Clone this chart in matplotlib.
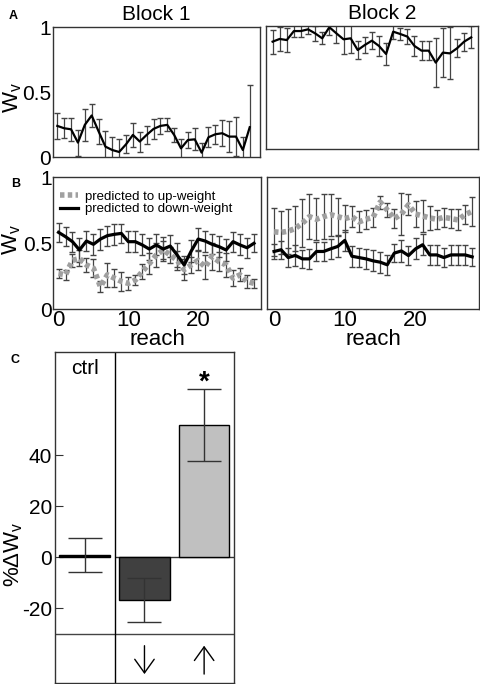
import matplotlib
matplotlib.use('Agg')
import matplotlib.pyplot as plt
import numpy as np

plt.rcParams['font.family'] = ['Liberation Sans', 'DejaVu Sans']
plt.rcParams['mathtext.fontset'] = 'custom'
plt.rcParams['mathtext.rm'] = 'Liberation Sans'
plt.rcParams['axes.unicode_minus'] = False

# panel A: visual weight per reach, block 1 and block 2
a1_mean = [.241, .223, .215, .113, .249, .321, .200, .082, .056, .041, .100, .172, .121, .172, .218,
           .241, .249, .172, .069, .133, .138, .036, .154, .177, .185, .159, .159, .056, .231]
a1_err = [.097, .077, .090, .100, .120, .087, .097, .120, .100, .097, .070, .095, .077, .070, .074,
          .060, .050, .055, .072, .060, .085, .072, .075, .073, .100, .120, .150, .100, .325]
a2_mean = [.873, .895, .886, .959, .959, .973, .940, .900, .990, .940, .892, .900, .805, .846, .881,
           .838, .773, .954, .935, .914, .838, .800, .800, .703, .784, .778, .819, .873, .908]
a2_err = [.097, .095, .100, .050, .045, .040, .060, .050, .060, .080, .120, .120, .076, .068, .068,
          .084, .092, .060, .050, .058, .084, .077, .077, .200, .200, .210, .073, .074, .090]

# panel B: down-weight (black) and up-weight (gray) groups
b1_down = [.583, .550, .512, .449, .517, .492, .532, .558, .568, .575, .512, .512, .487, .456, .487,
           .456, .479, .410, .335, .440, .532, .517, .492, .474, .449, .512, .487, .466, .500]
b1_down_err = [.070, .070, .075, .090, .075, .080, .080, .075, .080, .075, .080, .080, .080, .085, .080,
               .090, .085, .090, .070, .085, .085, .080, .075, .080, .085, .075, .080, .075, .070]
b1_up = [.270, .260, .370, .385, .335, .310, .170, .260, .235, .210, .195, .220, .285, .345, .410,
         .450, .410, .370, .300, .335, .370, .320, .400, .360, .335, .235, .260, .210, .195]
b1_up_err = [.035, .040, .050, .060, .050, .070, .040, .090, .070, .070, .050, .040, .060, .080, .090,
             .070, .060, .070, .080, .060, .070, .090, .100, .070, .090, .060, .050, .050, .035]
b2_down = [.436, .449, .390, .406, .380, .380, .436, .436, .456, .474, .520, .400, .390, .380, .365,
           .355, .335, .424, .440, .405, .456, .487, .410, .410, .390, .410, .410, .410, .395]
b2_down_err = [.060, .070, .075, .080, .070, .075, .070, .070, .075, .080, .080, .080, .075, .075, .080,
               .080, .075, .070, .080, .075, .080, .080, .075, .075, .075, .075, .075, .075, .070]
b2_up = [.585, .580, .590, .610, .650, .700, .680, .700, .715, .700, .685, .700, .660, .680, .695,
         .810, .750, .685, .720, .790, .720, .705, .690, .680, .695, .685, .675, .715, .740]
b2_up_err = [.180, .160, .170, .170, .180, .170, .160, .170, .160, .140, .100, .080, .080, .070, .070,
             .050, .050, .070, .160, .080, .100, .120, .090, .070, .070, .070, .080, .070, .110]

# panel C: percent change in visual weight
c_labels = ['ctrl', 'down', 'up']
c_mean = [0.7, -16.9, 51.8]
c_err = [6.7, 8.6, 14.0]
c_colors = ['black', '#404040', '#c0c0c0']

reach = np.arange(len(a1_mean))
ecol = '#444444'
fs_tick = 15

fig = plt.figure(figsize=(4.81, 6.84), dpi=100)
axA1 = fig.add_axes([.1096, .770, .431, .1905])
axA2 = fig.add_axes([.552, .7817, .4424, .1803])
axB1 = fig.add_axes([.1108, .5482, .4318, .1923])
axB2 = fig.add_axes([.555, .5482, .4414, .193])
axC = fig.add_axes([.1143, .0015, .3721, .4839])

for ax in [axA1, axA2, axB1, axB2]:
    ax.set_ylim(0, 1)
    ax.tick_params(length=0, labelsize=fs_tick, pad=1)
    for s in ax.spines.values():
        s.set_color('#333333')
        s.set_linewidth(1)
axA1.set_xlim(-0.67, 29.5)
axB1.set_xlim(-0.75, 29.0)
axA2.set_xlim(-1.0, 29.0)
axB2.set_xlim(-1.0, 29.0)

# A
axA1.errorbar(reach, a1_mean, yerr=a1_err, fmt='none', ecolor=ecol, elinewidth=0.9, capsize=2.5)
axA1.plot(reach, a1_mean, color='black', lw=1.6)
axA2.errorbar(reach, a2_mean, yerr=a2_err, fmt='none', ecolor=ecol, elinewidth=0.9, capsize=2.5)
axA2.plot(reach, a2_mean, color='black', lw=1.6)
axA1.set_title('Block 1', fontsize=15, pad=5)
axA2.set_title('Block 2', fontsize=15, pad=5, x=0.55)
axA1.set_yticks([0, 0.5, 1], ['0', '0.5', '1'])
axA1.set_xticks([])
axA2.set_xticks([])
axA2.set_yticks([])
axA1.set_ylabel(r'W$_\mathrm{v}$', fontsize=16)
axA1.yaxis.set_label_coords(-0.14, 0.46)

# B
dots = (0, (0.8, 0.6))
for ax, dn, dne, up, upe in [(axB1, b1_down, b1_down_err, b1_up, b1_up_err),
                              (axB2, b2_down, b2_down_err, b2_up, b2_up_err)]:
    ax.errorbar(reach, up, yerr=upe, fmt='none', ecolor=ecol, elinewidth=0.9, capsize=2.5)
    ax.errorbar(reach, dn, yerr=dne, fmt='none', ecolor=ecol, elinewidth=0.9, capsize=2.5)
    ax.plot(reach, up, color='#a0a0a0', lw=4, linestyle=dots, label='predicted to up-weight')
    ax.plot(reach, dn, color='black', lw=2.3, label='predicted to down-weight')
    ax.set_xticks([0, 10, 20])
    ax.tick_params(axis='x', labelsize=16)
    ax.set_xlabel('reach', fontsize=16, labelpad=-2)
axB1.set_yticks([0, 0.5, 1], ['0', '0.5', '1'])
axB2.set_yticks([])
axB1.set_ylabel(r'W$_\mathrm{v}$', fontsize=16)
axB1.yaxis.set_label_coords(-0.145, 0.525)
axB1.legend(loc='upper left', bbox_to_anchor=(0.03, 0.9), frameon=False, fontsize=9.5,
            handlelength=1.4, handletextpad=0.5, labelspacing=0.0, borderpad=0, borderaxespad=0)

# C
pos = [0.5, 1.5, 2.5]
axC.bar(pos, c_mean, width=0.85, color=c_colors, edgecolor='black', linewidth=1, zorder=2)
axC.errorbar(pos, c_mean, yerr=c_err, fmt='none', ecolor='#333333', elinewidth=1, capsize=12, zorder=3)
axC.set_xlim(0, 3)
axC.set_ylim(-49.4, 80.4)
axC.hlines(0, 1.0, 3.0, color='#333333', lw=1, zorder=1)
axC.axhline(-30, color='#444444', lw=1)
axC.axvline(1.0, color='black', lw=1)
axC.set_xticks([])
axC.set_yticks([-20, 0, 20, 40])
axC.tick_params(axis='y', direction='in', length=5.5, labelsize=fs_tick, pad=2, color='#333333')
for s in axC.spines.values():
    s.set_color('#333333')
    s.set_linewidth(1)
axC.set_ylabel(r'%$\Delta$W$_\mathrm{v}$', fontsize=16)
axC.yaxis.set_label_coords(-0.17, 0.39)
axC.text(pos[0], 74, 'ctrl', fontsize=15, ha='center', va='center')
axC.text(pos[2], 68.5, '*', fontsize=20, ha='center', va='center', fontweight='bold')
arrow = dict(arrowstyle='->, head_length=0.35, head_width=0.25', lw=1, mutation_scale=28, color='black')
axC.annotate('', xy=(pos[1], -47), xytext=(pos[1], -33.7), arrowprops=arrow)
axC.annotate('', xy=(pos[2], -33.7), xytext=(pos[2], -47), arrowprops=arrow)

fig.text(0.018, 0.985, 'A', fontsize=9, fontweight='bold', va='top')
fig.text(0.024, 0.74, 'B', fontsize=9, fontweight='bold', va='top')
fig.text(0.022, 0.482, 'C', fontsize=9, fontweight='bold', va='top')

fig.savefig('out.png', dpi=100)
